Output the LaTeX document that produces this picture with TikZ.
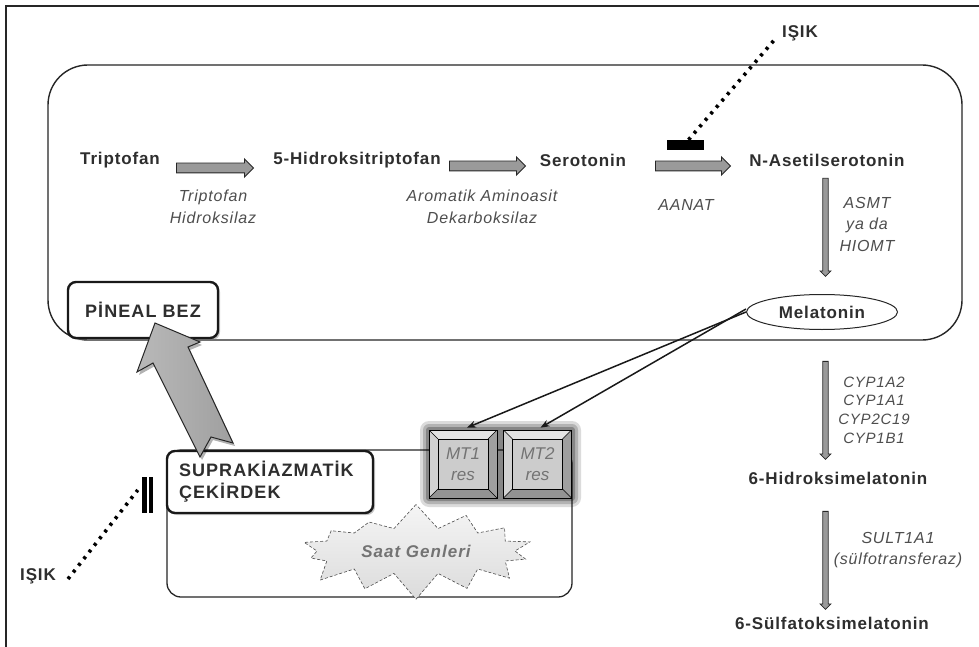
\documentclass[tikz,border=0pt]{standalone}
\usepackage{fontspec}
\setmainfont{Liberation Sans}
\usetikzlibrary{shapes.arrows,shapes.symbols,shapes.geometric,shadows,arrows.meta}
\definecolor{txtc}{HTML}{2E2E2E}
\definecolor{enzc}{HTML}{4E4E4E}
\definecolor{arrfill}{HTML}{9A9A9A}
\begin{document}
\begin{tikzpicture}[x=1pt,y=-1pt,
  lab/.style={font=\fontsize{17}{19}\selectfont\bfseries\addfontfeature{LetterSpace=5}, text=txtc, inner sep=0pt},
  enz/.style={font=\fontsize{16}{21.5}\selectfont\itshape\addfontfeature{LetterSpace=5}, text=enzc, inner sep=0pt, align=center},
  fatarrow/.style={single arrow, draw=black!85, fill=arrfill, line width=0.9pt, inner sep=4.5pt, single arrow head extend=4pt, minimum height=#1, outer sep=0pt},
  vertarrow/.style={single arrow, draw=black!85, fill=arrfill, line width=0.8pt, inner sep=2.3pt, single arrow head extend=2.7pt, minimum height=#1, shape border rotate=270, outer sep=0pt},
  capbox/.style={draw=black!90, line width=2.4pt, fill=white, rounded corners=8pt, font=\fontsize{18}{22}\selectfont\bfseries\addfontfeature{LetterSpace=6}, text=txtc, drop shadow={shadow xshift=2pt, shadow yshift=-2pt, opacity=0.45}},
  dotline/.style={line width=3.6pt, dash pattern=on 3pt off 5.5pt, black},
  conn/.style={line width=1.5pt, black!90, -{Stealth[length=9pt,width=7pt]}},
  bevelbox/.style={draw=black, line width=0.7pt, fill=gray!55, minimum width=68pt, minimum height=68pt, inner sep=0pt,
    font=\fontsize{17}{21}\selectfont\itshape, text=black!55, align=center,
    path picture={
      \path (path picture bounding box.north west) coordinate (bnw)
            (path picture bounding box.north east) coordinate (bne)
            (path picture bounding box.south west) coordinate (bsw)
            (path picture bounding box.south east) coordinate (bse);
      \fill[gray!22] (bnw) -- (bne) -- ([shift={(-9pt,-9pt)}]bne) -- ([shift={(9pt,-9pt)}]bnw) -- cycle;
      \fill[gray!35] (bnw) -- (bsw) -- ([shift={(9pt,9pt)}]bsw) -- ([shift={(9pt,-9pt)}]bnw) -- cycle;
      \fill[gray!75] (bne) -- (bse) -- ([shift={(-9pt,9pt)}]bse) -- ([shift={(-9pt,-9pt)}]bne) -- cycle;
      \fill[gray!85] (bsw) -- (bse) -- ([shift={(-9pt,9pt)}]bse) -- ([shift={(9pt,9pt)}]bsw) -- cycle;
      \draw[black, line width=0.6pt, fill=gray!40] ([shift={(9pt,-9pt)}]bnw) rectangle ([shift={(-9pt,9pt)}]bse);
      \draw[black, line width=0.5pt] (bnw) -- ([shift={(9pt,-9pt)}]bnw) (bne) -- ([shift={(-9pt,-9pt)}]bne)
            (bsw) -- ([shift={(9pt,9pt)}]bsw) (bse) -- ([shift={(-9pt,9pt)}]bse);
    }}
]
\useasboundingbox (0,0) rectangle (979,647);
\fill[white] (0,0) rectangle (979,647);
% outer frame (left and top)
\draw[line width=1.3pt, black!85] (6,647) -- (6,6) -- (979,6);

% pineal gland outline
\node[draw=black!85, line width=1.4pt, rounded corners=40pt, minimum width=914pt, minimum height=275pt, inner sep=0pt] (pinout) at (505,202.5) {};

% pathway
\node[lab] (trp) at (120,160) {Triptofan};
\node[lab] (htrp) at (357,160) {5-Hidroksitriptofan};
\node[lab] (ser) at (583,160) {Serotonin};
\node[lab] (nas) at (827,160) {N-Asetilserotonin};
\node[fatarrow=77pt] (a1) at (212.5,168) {};
\node[fatarrow=76pt] (a2) at (485,166) {};
\node[fatarrow=75pt] (a3) at (690.5,166) {};
\node[enz] (e1) at (213,207) {Triptofan\\Hidroksilaz};
\node[enz] (e2) at (482,207) {Aromatik Aminoasit\\Dekarboksilaz};
\node[enz] (e3) at (686,205) {AANAT};
\node[vertarrow=98pt] (v1) at (825.5,226) {};
\node[enz] (e4) at (867,224) {ASMT\\ya da\\HIOMT};
\node[lab, draw=black!85, line width=1pt, ellipse, minimum width=151pt, minimum height=35pt, inner sep=0pt, fill=white] (mel) at (822,312) {Melatonin};

% metabolism outside
\node[vertarrow=98pt] (v2) at (825.5,409) {};
\node[enz, font=\fontsize{15}{18.7}\selectfont\itshape\addfontfeature{LetterSpace=5}] (e5) at (874,410) {CYP1A2\\CYP1A1\\CYP2C19\\CYP1B1};
\node[lab] (ohm) at (838,478) {6-Hidroksimelatonin};
\node[vertarrow=98pt] (v3) at (825.5,559) {};
\node[enz] (e6) at (898,550) {SULT1A1\\(sülfotransferaz)};
\node[lab] (sulf) at (832,623) {6-Sülfatoksimelatonin};

% light inhibition (top)
\node[lab] (isik1) at (800,33) {IŞIK};
\node[fill=black, minimum width=37pt, minimum height=10pt, inner sep=0pt] (blk1) at (685.5,145) {};
\draw[dotline] ([xshift=3pt]blk1.north) -- ([xshift=-6pt,yshift=-5pt]isik1.west);

% SCN outer box
\node[draw=black!85, line width=1.3pt, rounded corners=14pt, minimum width=405pt, minimum height=147pt, inner sep=0pt] (scnout) at (369.5,523.5) {};

% clock genes starburst
\node[starburst, starburst points=14, starburst point height=26pt, random starburst=7,
      minimum width=250pt, minimum height=98pt, draw=black!70, densely dashed, line width=0.6pt,
      top color=gray!8, bottom color=gray!28, inner sep=0pt,
      font=\fontsize{17}{20}\selectfont\bfseries\itshape\addfontfeature{LetterSpace=6}, text=black!55] (saat) at (416,551) {Saat Genleri};

% receptors
\foreach \g/\o in {9/0.14, 6/0.18, 3/0.25}
  \fill[black, opacity=\o, rounded corners=\g pt] (429-\g,430-\g) rectangle (572+\g,498+\g);
\node[bevelbox] (mt1) at (463,464) {MT1\\res};
\node[bevelbox] (mt2) at (537.5,464) {MT2\\res};

% SCN label box
\node[capbox, minimum width=206pt, minimum height=62pt, text width=182pt, inner xsep=12pt, align=left] (scn) at (270,482) {SUPRAKİAZMATİK\\ÇEKİRDEK};

% pineal label box
\node[capbox, minimum width=150pt, minimum height=56pt] (pin) at (143,310) {PİNEAL BEZ};

% melatonin to receptors
\draw[conn] (mel.west) -- ([xshift=4pt,yshift=2pt]mt1.north);
\draw[conn] ([yshift=3pt]mel.west) -- ([xshift=3pt,yshift=2pt]mt2.north);

% big arrow SCN -> pineal
\fill[black, opacity=0.3] (157,326) -- (202,345) -- (190,350) -- (235,446) -- (213,440) -- (202,460) -- (155,366) -- (139,375) -- cycle;
\draw[line width=1pt, black!85, left color=gray!55, right color=gray!75]
  (155,323) -- (200,342) -- (188,347) -- (233,443) -- (211,437) -- (200,457) -- (153,363) -- (137,372) -- cycle;

% light inhibition (left)
\node[lab] (isik2) at (38,576) {IŞIK};
\node[minimum width=11pt, minimum height=36pt, inner sep=0pt,
  path picture={
    \fill[black] (path picture bounding box.north west) rectangle ([xshift=4.5pt]path picture bounding box.south west);
    \fill[black] ([xshift=-4.5pt]path picture bounding box.north east) rectangle (path picture bounding box.south east);
  }] (blk2) at (147.5,495) {};
\draw[dotline] ([xshift=12pt,yshift=-3pt]isik2.east) -- ([xshift=-4pt,yshift=5pt]blk2.west);
\end{tikzpicture}
\end{document}
